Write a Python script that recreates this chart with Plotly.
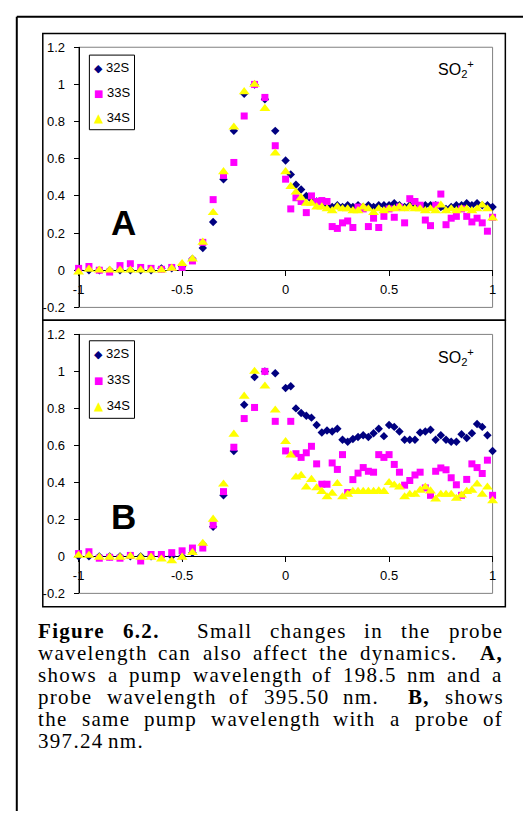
import plotly.graph_objects as go

W, H = 527, 819

# ---------------- data ----------------
delay = [-1, -0.95, -0.9, -0.85, -0.8, -0.75, -0.7, -0.65, -0.6, -0.55,
         -0.5, -0.45, -0.4, -0.35, -0.3, -0.25, -0.2, -0.15, -0.1, -0.05,
         0, 0.025, 0.05, 0.075, 0.1, 0.125, 0.15, 0.175, 0.2, 0.225,
         0.25, 0.275, 0.3, 0.325, 0.35, 0.375, 0.4, 0.425, 0.45, 0.475,
         0.5, 0.525, 0.55, 0.575, 0.6, 0.625, 0.65, 0.675, 0.7, 0.725,
         0.75, 0.775, 0.8, 0.825, 0.85, 0.875, 0.9, 0.925, 0.95, 0.975, 1.0]

a_32s = [0.0, 0.0, 0.0, 0.0, 0.0, 0.0, 0.0, 0.0, 0.01, 0.01,
         0.02, 0.06, 0.12, 0.26, 0.49, 0.75, 0.95, 1.0, 0.92, 0.75,
         0.59, 0.515, 0.46, 0.435, 0.40, 0.38, 0.37, 0.36, 0.35, 0.34,
         0.35, 0.34, 0.35, 0.34, 0.35, 0.34, 0.35, 0.34, 0.35, 0.35,
         0.35, 0.36, 0.35, 0.34, 0.35, 0.35, 0.34, 0.35, 0.35, 0.35,
         0.34, 0.33, 0.34, 0.35, 0.35, 0.36, 0.35, 0.36, 0.35, 0.35, 0.34]
a_33s = [0.01, 0.02, 0.0, -0.01, 0.025, 0.035, 0.015, 0.01, 0.005, 0.015,
         0.015, 0.05, 0.15, 0.38, 0.51, 0.58, 0.83, 1.0, 0.93, 0.67,
         0.49, 0.33, 0.39, 0.37, 0.31, 0.40, 0.37, 0.375, 0.37, 0.235,
         0.225, 0.255, 0.265, 0.23, 0.34, 0.33, 0.235, 0.28, 0.23, 0.29,
         0.33, 0.285, 0.34, 0.255, 0.385, 0.37, 0.35, 0.27, 0.24, 0.35,
         0.41, 0.245, 0.28, 0.29, 0.33, 0.29, 0.26, 0.28, 0.255, 0.21, 0.285]
a_34s = [-0.01, 0.005, 0.0, 0.0, 0.0, 0.0, 0.0, 0.0, 0.0, 0.01,
         0.035, 0.06, 0.15, 0.31, 0.53, 0.77, 0.96, 1.0, 0.87, 0.63,
         0.53, 0.45, 0.42, 0.39, 0.36, 0.36, 0.34, 0.34, 0.33, 0.32,
         0.34, 0.33, 0.33, 0.32, 0.32, 0.34, 0.33, 0.31, 0.33, 0.32,
         0.33, 0.33, 0.34, 0.33, 0.34, 0.33, 0.33, 0.32, 0.33, 0.32,
         0.35, 0.32, 0.33, 0.32, 0.33, 0.33, 0.32, 0.33, 0.35, 0.33, 0.28]

b_32s = [0.0, 0.0, 0.0, 0.0, 0.0, 0.0, 0.0, 0.0, 0.0, 0.0,
         0.0, 0.02, 0.065, 0.16, 0.33, 0.57, 0.82, 0.97, 1.0, 0.99,
         0.91, 0.92, 0.80, 0.775, 0.76, 0.75, 0.71, 0.67, 0.68, 0.675,
         0.69, 0.63, 0.62, 0.635, 0.645, 0.655, 0.645, 0.665, 0.69, 0.65,
         0.71, 0.70, 0.675, 0.63, 0.63, 0.63, 0.67, 0.675, 0.685, 0.63,
         0.655, 0.63, 0.62, 0.62, 0.66, 0.64, 0.665, 0.715, 0.70, 0.655, 0.57]
b_33s = [0.015, 0.025, -0.01, -0.005, -0.01, 0.005, -0.025, 0.01, 0.01, 0.02,
         0.03, 0.045, 0.045, 0.17, 0.35, 0.59, 0.745, 0.805, 1.0, 0.73,
         0.57, 0.73, 0.555, 0.535, 0.56, 0.595, 0.50, 0.39, 0.39, 0.505,
         0.47, 0.55, 0.345, 0.415, 0.45, 0.48, 0.46, 0.455, 0.55, 0.535,
         0.55, 0.497, 0.455, 0.385, 0.41, 0.44, 0.455, 0.37, 0.33, 0.46,
         0.478, 0.468, 0.425, 0.387, 0.33, 0.416, 0.50, 0.48, 0.448, 0.52, 0.33]
b_34s = [0.005, 0.005, -0.005, -0.005, -0.005, 0.0, -0.005, -0.005, -0.015, -0.025,
         -0.005, 0.02, 0.07, 0.2, 0.39, 0.66, 0.865, 1.0, 0.92, 0.79,
         0.62, 0.548, 0.428, 0.437, 0.374, 0.415, 0.37, 0.35, 0.321, 0.34,
         0.393, 0.321, 0.335, 0.35, 0.35, 0.35, 0.35, 0.35, 0.353, 0.35,
         0.398, 0.385, 0.374, 0.321, 0.335, 0.335, 0.357, 0.374, 0.353, 0.309,
         0.335, 0.335, 0.335, 0.313, 0.331, 0.35, 0.357, 0.39, 0.335, 0.374, 0.30]

series_names = ["32S", "33S", "34S"]
series_colors = ["#000080", "#FF00FF", "#FFFF00"]
series_symbols = ["diamond", "square", "triangle-up"]
series_sizes = [6.5, 7, 9.5]
legend_glyphs = ["◆", "■", "▲"]
legend_glyph_sizes = [11, 10, 12]

panel_labels = ["A", "B"]
species_label = "SO<sub>2</sub><sup>+</sup>"

y_tickvals = [-0.2, 0, 0.2, 0.4, 0.6, 0.8, 1.0, 1.2]
y_ticktext = ["-0.2", "0", "0.2", "0.4", "0.6", "0.8", "1", "1.2"]
x_tickvals = [-1, -0.5, 0, 0.5, 1]
x_ticktext = ["-1", "-0.5", "0", "0.5", "1"]

# caption: (word, bold, spaces after)
caption = [
    [("Figure", True, 1), ("6.2.", True, 2), ("Small", False, 1), ("changes", False, 1),
     ("in", False, 1), ("the", False, 1), ("probe", False, 0)],
    [("wavelength", False, 1), ("can", False, 1), ("also", False, 1), ("affect", False, 1),
     ("the", False, 1), ("dynamics.", False, 2), ("A,", True, 0)],
    [("shows", False, 1), ("a", False, 1), ("pump", False, 1), ("wavelength", False, 1),
     ("of", False, 1), ("198.5", False, 1), ("nm", False, 1), ("and", False, 1), ("a", False, 0)],
    [("probe", False, 1), ("wavelength", False, 1), ("of", False, 1), ("395.50", False, 1),
     ("nm.", False, 2), ("B,", True, 1), ("shows", False, 0)],
    [("the", False, 1), ("same", False, 1), ("pump", False, 1), ("wavelength", False, 1),
     ("with", False, 1), ("a", False, 1), ("probe", False, 1), ("of", False, 0)],
    [("397.24", False, 1), ("nm.", False, 0)],
]

# ---------------- layout geometry (pixels) ----------------
plot_left, plot_right = 74, 496
panels_px = [(41, 306), (333.5, 597.3)]          # plot area top/bottom
boxes_px = [(27, 319), (319, 611)]                # inner frame top/bottom
box_left, box_right = 37.5, 509
legend_px = [(49, 125), (340, 419)]
legend_x = (85, 131)
label_centers = [220, 519]
species_centers = [63, 357]
cap_left, cap_right = 32, 505
cap_first, cap_step = 636, 22.4
cap_size = 21
cap_ls = 1.3   # letter spacing (px)


def px(x):
    return x / W


def py(y):
    return 1 - y / H


SANS = "Liberation Sans"
SERIF = "Liberation Serif"

fig = go.Figure()
datasets = [[a_32s, a_33s, a_34s], [b_32s, b_33s, b_34s]]
yrange = [-0.2, 1.2]

shapes = []
annotations = []

for p in range(2):
    xa = "x" if p == 0 else "x2"
    ya = "y" if p == 0 else "y2"
    for s in range(3):
        fig.add_trace(go.Scatter(
            x=delay, y=datasets[p][s], mode="markers", name=series_names[s],
            xaxis=xa, yaxis=ya, showlegend=False, cliponaxis=False,
            marker=dict(symbol=series_symbols[s], color=series_colors[s],
                        size=series_sizes[s], line=dict(width=0)),
        ))
    top, bot = panels_px[p]
    dom = [py(bot), py(top)]
    zero_pos = dom[0] + (0 - yrange[0]) / (yrange[1] - yrange[0]) * (dom[1] - dom[0])
    xname = "xaxis" if p == 0 else "xaxis2"
    yname = "yaxis" if p == 0 else "yaxis2"
    fig.layout[xname] = dict(
        domain=[px(plot_left), px(plot_right)], range=[-1, 1], anchor="free",
        position=zero_pos, showline=True, linecolor="black", linewidth=1,
        ticks="outside", ticklen=5, tickcolor="black", tickwidth=1,
        tickvals=x_tickvals, ticktext=x_ticktext, showgrid=False, zeroline=False,
        tickfont=dict(family=SANS, size=13, color="black"), layer="below traces",
        ticklabelstandoff=2,
    )
    fig.layout[yname] = dict(
        domain=dom, range=yrange, anchor="free", position=px(plot_left),
        showline=True, linecolor="black", linewidth=1,
        ticks="outside", ticklen=5, tickcolor="black", tickwidth=1,
        tickvals=y_tickvals, ticktext=y_ticktext, showgrid=False, zeroline=False,
        tickfont=dict(family=SANS, size=13, color="black"), layer="below traces",
        ticklabelstandoff=6,
    )
    # gray plot-area border
    shapes.append(dict(type="rect", xref=f"{xa} domain", yref=f"{ya} domain",
                       x0=0, x1=1, y0=0, y1=1, line=dict(color="#808080", width=1),
                       layer="below"))
    # inner frame
    bt, bb = boxes_px[p]
    shapes.append(dict(type="rect", xref="paper", yref="paper",
                       x0=px(box_left), x1=px(box_right), y0=py(bb), y1=py(bt),
                       line=dict(color="black", width=1.5)))
    # legend box
    lt, lb = legend_px[p]
    shapes.append(dict(type="rect", xref="paper", yref="paper",
                       x0=px(legend_x[0]), x1=px(legend_x[1]), y0=py(lb), y1=py(lt),
                       line=dict(color="black", width=1), fillcolor="white"))
    step = (lb - lt) / 3
    for s in range(3):
        yc = lt + step * (s + 0.5)
        entry = (f'<span style="font-family:DejaVu Sans;font-size:{legend_glyph_sizes[s]}px;'
                 f'color:{series_colors[s]}">{legend_glyphs[s]}</span> {series_names[s]}')
        annotations.append(dict(
            xref="paper", yref="paper", x=px(89), y=py(yc), xanchor="left", yanchor="middle",
            text=entry, showarrow=False, borderpad=0,
            font=dict(family=SANS, size=13, color="black")))
    annotations.append(dict(
        xref="paper", yref="paper", x=px(120), y=py(label_centers[p]), xanchor="center",
        yanchor="middle", text=f"<b>{panel_labels[p]}</b>", showarrow=False,
        font=dict(family=SANS, size=35, color="black")))
    annotations.append(dict(
        xref="paper", yref="paper", x=px(459), y=py(species_centers[p]), xanchor="center",
        yanchor="middle", text=species_label, showarrow=False,
        font=dict(family=SANS, size=16, color="black")))

# outer frame (top and left edges)
shapes.append(dict(type="line", xref="paper", yref="paper", x0=px(11), x1=1, y0=py(10), y1=py(10),
                   line=dict(color="black", width=2)))
shapes.append(dict(type="line", xref="paper", yref="paper", x0=px(11), x1=px(11), y0=py(10), y1=0,
                   line=dict(color="black", width=2)))

# ---------------- caption with justified lines ----------------
REG = {'a': 444, 'b': 500, 'c': 444, 'd': 500, 'e': 444, 'f': 333, 'g': 500, 'h': 500,
       'i': 278, 'j': 278, 'k': 500, 'l': 278, 'm': 778, 'n': 500, 'o': 500, 'p': 500,
       'q': 500, 'r': 333, 's': 389, 't': 278, 'u': 500, 'v': 500, 'w': 722, 'x': 500,
       'y': 500, 'z': 444, '.': 250, ',': 250, ' ': 250, 'S': 556, 'A': 722, 'B': 667,
       'F': 556}
BOLD = {'F': 611, 'i': 278, 'g': 500, 'u': 556, 'r': 444, 'e': 444, '.': 250, ',': 250,
        'A': 722, 'B': 667}


def text_width(word, bold):
    table = BOLD if bold else REG
    tot = 0
    for ch in word:
        if ch.isdigit():
            tot += 500
        else:
            tot += table.get(ch, REG.get(ch, 500))
    return tot / 1000 * cap_size + cap_ls * len(word)


space_w = 250 / 1000 * cap_size
for li, line in enumerate(caption):
    yc = cap_first + cap_step * li
    widths = [text_width(w, b) for w, b, _ in line]
    nspaces = sum(sp for _, _, sp in line)
    natural = sum(widths) + nspaces * space_w
    last = li == len(caption) - 1
    extra = 0 if last or nspaces == 0 else (cap_right - cap_left - natural) / nspaces
    x = cap_left
    for (w, b, sp), wd in zip(line, widths):
        inner = f"<b>{w}</b>" if b else w
        annotations.append(dict(
            xref="paper", yref="paper", x=px(x), y=py(yc), xanchor="left", yanchor="middle",
            text=f'<span style="letter-spacing:{cap_ls}px">{inner}</span>',
            showarrow=False, borderpad=0,
            font=dict(family=SERIF, size=cap_size, color="black")))
        x += wd + sp * (space_w + extra)

fig.update_layout(
    width=W, height=H, margin=dict(l=0, r=0, t=0, b=0, pad=0),
    paper_bgcolor="white", plot_bgcolor="white", showlegend=False,
    shapes=shapes, annotations=annotations, hovermode=False,
)

fig.write_html("out.html")
